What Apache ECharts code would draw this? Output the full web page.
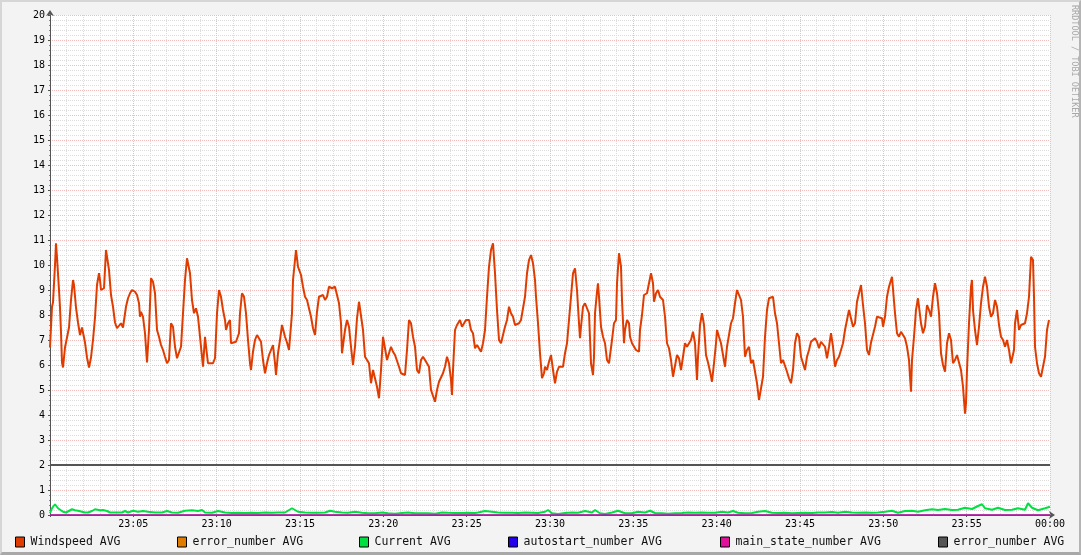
<!DOCTYPE html>
<html>
<head>
<meta charset="utf-8">
<script src="https://cdn.jsdelivr.net/npm/echarts@6/dist/echarts.min.js"></script>
<style>
  html, body { margin: 0; padding: 0; background: #f3f3f3; }
  #wrap { position: relative; width: 1081px; height: 555px; }
  #chart { position: absolute; left: 0; top: 0; width: 1081px; height: 555px; }
  #frame { position: absolute; left: 0; top: 0; width: 1081px; height: 555px; box-sizing: border-box;
           border-top: 2px solid #d6d6d6; border-left: 2px solid #d6d6d6;
           border-right: 2px solid #b4b4b4; border-bottom: 3px solid #a8a8a8; pointer-events: none; }
</style>
</head>
<body>
<div id="wrap"><div id="chart"></div><div id="frame"></div></div>
<script>
// ---- DATA (time = minutes after 23:00) ----
const seriesNames = ['Windspeed AVG', 'error_number AVG', 'Current AVG', 'autostart_number AVG', 'main_state_number AVG', 'error_number AVG '];

const windspeedAvg = [[0,6.7],[0.12,8.33],[0.18,8.5],[0.30,10.0],[0.36,10.87],[0.42,10.3],[0.54,9.0],[0.60,8.3],[0.66,7.3],[0.72,6.1],[0.78,5.9],[0.84,5.95],[0.90,6.7],[1.02,7.1],[1.14,7.5],[1.26,8.6],[1.38,9.4],[1.44,9.2],[1.56,8.3],[1.68,7.7],[1.80,7.2],[1.92,7.5],[2.04,7.5],[2.10,6.9],[2.22,6.3],[2.34,5.9],[2.46,6.3],[2.58,7.0],[2.70,7.9],[2.82,9.2],[2.94,9.67],[3.00,9.4],[3.06,9.0],[3.24,9.07],[3.36,10.6],[3.48,10.67],[3.54,9.8],[3.66,8.8],[3.78,8.33],[3.90,7.7],[4.02,7.47],[4.14,7.5],[4.26,7.67],[4.38,7.5],[4.50,7.5],[4.56,8.33],[4.68,8.67],[4.80,8.87],[4.92,9.0],[5.10,8.93],[5.22,8.8],[5.34,8.47],[5.40,7.93],[5.46,8.13],[5.58,7.93],[5.70,7.27],[5.82,6.1],[5.94,7.4],[6.06,9.47],[6.18,9.33],[6.30,8.87],[6.42,7.4],[6.54,7.13],[6.66,6.8],[6.78,6.6],[6.90,6.33],[7.02,6.07],[7.14,6.2],[7.26,7.67],[7.38,7.53],[7.50,6.73],[7.62,6.27],[7.74,6.27],[7.86,6.73],[7.98,8.07],[8.10,9.4],[8.22,10.27],[8.34,10.2],[8.40,9.67],[8.52,8.6],[8.64,8.07],[8.76,8.27],[8.88,7.93],[8.94,7.53],[9.06,6.73],[9.18,5.93],[9.30,7.13],[9.42,6.4],[9.48,6.07],[9.60,6.07],[9.78,6.07],[9.90,6.27],[10.02,8.07],[10.14,9.0],[10.26,8.73],[10.38,8.2],[10.50,7.8],[10.56,7.4],[10.68,7.67],[10.80,7.8],[10.86,6.87],[10.98,6.93],[11.16,6.93],[11.34,7.27],[11.40,8.07],[11.52,8.87],[11.64,8.73],[11.76,8.07],[11.88,7.0],[12.00,6.07],[12.06,5.8],[12.18,6.53],[12.30,7.0],[12.42,7.2],[12.54,7.13],[12.66,6.93],[12.78,6.2],[12.90,5.67],[13.02,6.07],[13.14,6.4],[13.26,6.47],[13.38,6.8],[13.50,6.07],[13.56,5.6],[13.68,6.47],[13.80,7.0],[13.92,7.6],[13.98,7.6],[14.10,7.13],[14.22,6.9],[14.34,6.6],[14.46,6.6],[14.52,8.07],[14.58,9.4],[14.76,10.6],[14.88,9.93],[15.06,9.6],[15.18,9.13],[15.30,8.73],[15.42,8.6],[15.54,8.67],[15.66,7.93],[15.78,7.47],[15.90,7.2],[16.02,8.13],[16.14,8.73],[16.26,8.8],[16.38,8.8],[16.50,8.6],[16.62,8.73],[16.74,9.13],[16.92,9.07],[17.10,9.13],[17.22,9.2],[17.34,8.47],[17.46,7.67],[17.52,6.47],[17.64,6.4],[17.70,7.4],[17.82,7.8],[17.94,7.53],[18.06,6.73],[18.18,6.0],[18.30,6.73],[18.42,7.87],[18.54,8.53],[18.66,8.47],[18.78,7.4],[18.90,6.33],[19.02,6.27],[19.14,6.07],[19.26,5.27],[19.38,5.8],[19.50,5.73],[19.62,5.13],[19.74,4.67],[19.86,5.8],[19.98,7.13],[20.10,7.07],[20.22,6.2],[20.34,6.47],[20.46,6.73],[20.58,6.53],[20.70,6.4],[20.82,6.33],[20.94,5.93],[21.06,5.67],[21.18,5.6],[21.30,5.6],[21.42,6.6],[21.54,7.8],[21.66,7.67],[21.78,7.13],[21.90,6.73],[22.02,5.8],[22.14,5.67],[22.26,6.2],[22.38,6.33],[22.50,6.2],[22.62,6.13],[22.74,5.93],[22.86,5.0],[22.98,5.0],[23.10,4.53],[23.22,5.0],[23.34,5.33],[23.46,5.33],[23.58,5.67],[23.70,5.93],[23.82,6.33],[23.94,6.07],[24.06,5.4],[24.12,4.8],[24.18,5.8],[24.30,7.4],[24.42,7.6],[24.60,7.8],[24.72,7.53],[24.84,7.53],[24.96,7.8],[25.14,7.8],[25.26,7.4],[25.38,7.27],[25.50,6.67],[25.62,6.8],[25.74,6.73],[25.86,6.53],[25.98,6.87],[26.10,7.4],[26.22,8.73],[26.34,9.93],[26.46,10.6],[26.58,10.87],[26.70,9.67],[26.82,8.2],[26.94,7.0],[27.06,6.87],[27.18,7.2],[27.30,7.53],[27.42,7.8],[27.54,8.33],[27.66,8.07],[27.78,7.93],[27.90,7.6],[28.02,7.6],[28.14,7.67],[28.26,7.8],[28.38,7.87],[28.50,8.73],[28.62,9.67],[28.74,10.2],[28.86,10.4],[28.98,10.07],[29.10,9.4],[29.16,8.73],[29.28,7.67],[29.40,6.47],[29.52,5.47],[29.64,5.67],[29.70,5.93],[29.82,5.8],[29.94,6.13],[30.06,6.4],[30.18,5.8],[30.30,5.27],[30.42,5.73],[30.54,5.93],[30.66,6.0],[30.78,5.93],[30.90,6.47],[31.02,6.87],[31.14,6.93],[31.26,8.73],[31.38,9.67],[31.50,9.87],[31.62,9.0],[31.74,7.67],[31.80,7.07],[31.86,7.53],[31.98,8.33],[32.10,8.47],[32.22,8.47],[32.34,8.07],[32.46,6.07],[32.58,5.6],[32.64,6.33],[32.70,8.07],[32.82,8.93],[32.88,9.27],[32.94,8.73],[33.06,7.53],[33.18,7.13],[33.30,6.87],[33.42,6.2],[33.54,6.07],[33.66,6.0],[33.72,7.0],[33.84,7.67],[33.96,7.8],[34.02,9.27],[34.14,10.47],[34.26,9.93],[34.32,8.6],[34.44,6.87],[34.50,7.4],[34.62,7.8],[34.74,7.67],[34.80,7.13],[34.92,6.87],[35.04,6.8],[35.16,6.6],[35.34,6.53],[35.40,7.4],[35.52,8.0],[35.64,8.8],[35.82,8.87],[35.94,9.27],[36.06,9.67],[36.18,9.27],[36.24,8.53],[36.36,8.87],[36.48,9.0],[36.60,8.73],[36.78,8.6],[36.90,7.93],[37.02,6.87],[37.14,6.67],[37.26,6.2],[37.38,5.53],[37.50,5.47],[37.62,6.4],[37.74,6.27],[37.86,5.8],[37.98,6.33],[38.10,6.87],[38.22,6.73],[38.34,6.67],[38.46,7.0],[38.58,7.33],[38.70,6.87],[38.82,5.4],[38.88,6.33],[39.00,7.6],[39.12,8.07],[39.24,7.6],[39.36,6.4],[39.48,6.1],[39.60,5.75],[39.72,5.33],[39.84,6.07],[39.96,6.87],[40.02,7.4],[40.14,7.13],[40.26,6.87],[40.38,6.8],[40.50,5.93],[40.62,6.73],[40.74,7.2],[40.86,7.67],[40.98,7.87],[41.10,8.47],[41.22,9.0],[41.34,8.93],[41.46,8.6],[41.58,7.93],[41.70,6.33],[41.82,6.6],[41.94,6.73],[42.06,6.07],[42.18,6.2],[42.30,6.2],[42.42,5.27],[42.54,4.6],[42.66,4.53],[42.78,5.53],[42.90,7.13],[43.02,8.2],[43.14,8.67],[43.26,8.73],[43.38,8.73],[43.50,8.07],[43.62,7.67],[43.74,6.87],[43.86,6.07],[43.98,6.2],[44.10,6.13],[44.22,5.73],[44.34,5.47],[44.46,5.27],[44.58,5.8],[44.70,6.87],[44.82,7.27],[44.94,7.13],[45.06,6.33],[45.18,6.07],[45.30,5.8],[45.42,6.33],[45.54,6.6],[45.66,6.93],[45.78,7.0],[45.90,7.07],[46.02,6.93],[46.14,6.67],[46.26,6.93],[46.38,7.0],[46.50,6.73],[46.62,6.27],[46.74,6.73],[46.86,7.27],[46.98,6.73],[47.10,5.93],[47.22,6.2],[47.34,6.33],[47.46,6.4],[47.58,6.87],[47.70,7.4],[47.82,7.8],[47.94,8.2],[48.06,8.2],[48.18,7.53],[48.30,7.67],[48.42,8.53],[48.54,8.87],[48.66,9.2],[48.78,8.4],[48.90,7.67],[49.02,6.6],[49.14,6.4],[49.26,6.9],[49.38,6.93],[49.50,7.53],[49.62,7.93],[49.74,7.87],[49.92,7.87],[49.98,7.53],[50.10,7.93],[50.22,8.73],[50.34,9.13],[50.46,9.4],[50.52,9.53],[50.64,9.47],[50.70,8.07],[50.82,7.27],[50.94,7.13],[51.06,7.33],[51.18,7.2],[51.30,7.07],[51.42,6.73],[51.54,6.2],[51.60,5.53],[51.66,4.93],[51.72,6.2],[51.84,7.13],[51.96,8.2],[52.08,8.67],[52.20,8.6],[52.26,7.67],[52.38,7.27],[52.50,7.53],[52.62,8.4],[52.74,8.2],[52.86,7.93],[52.98,8.73],[53.10,9.27],[53.22,8.87],[53.34,8.07],[53.46,6.47],[53.58,6.0],[53.70,5.73],[53.82,6.87],[53.94,7.27],[54.06,7.0],[54.18,6.07],[54.30,6.2],[54.42,6.4],[54.54,6.33],[54.66,5.8],[54.78,5.13],[54.90,4.05],[54.96,4.47],[55.02,5.8],[55.14,7.67],[55.26,9.13],[55.32,9.4],[55.38,8.2],[55.50,7.4],[55.62,6.8],[55.74,7.53],[55.86,8.47],[55.98,9.13],[56.10,9.53],[56.22,9.13],[56.34,8.33],[56.46,7.93],[56.58,8.07],[56.70,8.6],[56.82,8.33],[56.94,7.6],[57.06,7.13],[57.18,7.0],[57.30,6.73],[57.42,7.0],[57.54,6.6],[57.66,6.07],[57.78,6.13],[57.84,6.6],[57.90,7.67],[58.02,8.2],[58.14,7.4],[58.26,7.6],[58.38,7.53],[58.50,7.67],[58.62,8.07],[58.74,8.73],[58.80,9.53],[58.86,10.33],[58.98,10.2],[59.04,8.73],[59.10,6.73],[59.22,6.07],[59.34,5.67],[59.46,5.53],[59.58,5.53],[59.70,6.33],[59.82,7.4],[59.94,7.8]];

const currentAvg = [[0,0.07],[0.12,0.27],[0.30,0.43],[0.48,0.27],[0.60,0.2],[0.78,0.13],[0.96,0.1],[1.08,0.16],[1.32,0.23],[1.50,0.19],[1.68,0.17],[1.92,0.13],[2.10,0.1],[2.28,0.1],[2.52,0.16],[2.70,0.23],[3.00,0.19],[3.18,0.2],[3.42,0.16],[3.60,0.1],[3.90,0.1],[4.32,0.1],[4.50,0.16],[4.68,0.1],[4.98,0.17],[5.28,0.13],[5.58,0.16],[5.88,0.13],[6.30,0.1],[6.72,0.1],[7.02,0.16],[7.32,0.1],[7.68,0.09],[8.10,0.17],[8.52,0.19],[8.88,0.16],[9.12,0.2],[9.30,0.1],[9.72,0.09],[10.08,0.16],[10.50,0.1],[10.92,0.08],[11.28,0.09],[11.70,0.08],[12.12,0.09],[12.48,0.08],[12.90,0.1],[13.32,0.09],[13.68,0.1],[14.10,0.1],[14.52,0.27],[14.70,0.2],[14.88,0.13],[15.30,0.1],[15.72,0.09],[16.08,0.09],[16.50,0.1],[16.80,0.17],[17.10,0.13],[17.52,0.1],[17.88,0.09],[18.30,0.13],[18.72,0.09],[19.08,0.07],[19.50,0.07],[19.92,0.1],[20.28,0.07],[20.70,0.05],[21.12,0.08],[21.48,0.1],[21.90,0.07],[22.32,0.07],[22.68,0.07],[23.10,0.05],[23.52,0.1],[23.88,0.09],[24.30,0.08],[24.72,0.08],[25.08,0.09],[25.50,0.08],[25.68,0.1],[26.10,0.16],[26.52,0.13],[26.88,0.1],[27.30,0.09],[27.72,0.09],[28.08,0.08],[28.50,0.1],[28.92,0.09],[29.28,0.08],[29.70,0.13],[29.88,0.2],[30.12,0.07],[30.48,0.04],[30.90,0.08],[31.32,0.1],[31.68,0.09],[32.10,0.16],[32.52,0.1],[32.70,0.2],[33.00,0.07],[33.30,0.04],[33.72,0.1],[34.08,0.17],[34.50,0.07],[34.92,0.07],[35.28,0.13],[35.70,0.1],[36.00,0.17],[36.30,0.08],[36.72,0.07],[37.08,0.05],[37.50,0.07],[37.92,0.08],[38.28,0.1],[38.70,0.09],[39.12,0.1],[39.48,0.09],[39.90,0.09],[40.32,0.13],[40.68,0.1],[40.98,0.16],[41.28,0.09],[41.70,0.07],[42.12,0.08],[42.48,0.13],[42.90,0.16],[43.32,0.09],[43.68,0.08],[44.10,0.09],[44.52,0.07],[44.88,0.08],[45.30,0.09],[45.72,0.08],[46.08,0.1],[46.50,0.1],[46.92,0.12],[47.28,0.09],[47.70,0.13],[48.12,0.1],[48.48,0.09],[48.90,0.1],[49.32,0.09],[49.68,0.1],[50.10,0.13],[50.52,0.17],[50.88,0.09],[51.30,0.16],[51.72,0.17],[52.08,0.13],[52.50,0.19],[52.92,0.23],[53.28,0.2],[53.70,0.24],[54.12,0.2],[54.48,0.21],[54.90,0.29],[55.32,0.24],[55.68,0.36],[55.92,0.43],[56.10,0.27],[56.52,0.21],[56.88,0.29],[57.30,0.2],[57.72,0.21],[58.08,0.27],[58.50,0.21],[58.68,0.47],[58.92,0.29],[59.28,0.19],[59.70,0.27],[60.00,0.33]];

const flatTimes = [0, 60];
const errorNumberValues = [0, 0];
const autostartNumberValues = [0, 0];
const mainStateNumberValues = [0, 0];
const errorNumber2Values = [2, 2];

const seriesColors = ['#e03c00', '#e07b00', '#00e040', '#2200ee', '#e0109a', '#555555'];
const legendLefts = [15, 177, 359, 508, 720, 938];

// ---- CHART ----
const pair = (vals) => flatTimes.map((t, i) => [t, vals[i]]);
const seriesData = [windspeedAvg, pair(errorNumberValues), currentAvg, pair(autostartNumberValues), pair(mainStateNumberValues), pair(errorNumber2Values)];
const zs = [5, 3, 4, 4, 4, 6];

const MONO = 'DejaVu Sans Mono';
const chart = echarts.init(document.getElementById('chart'), null, { renderer: 'canvas' });
const pad2 = n => (n < 10 ? '0' : '') + n;

chart.setOption({
  animation: false,
  backgroundColor: '#f3f3f3',
  textStyle: { fontFamily: MONO },
  grid: { left: 50, top: 15, width: 1000, height: 500, show: true, backgroundColor: '#ffffff', borderWidth: 0 },
  legend: seriesNames.map((n, i) => ({
    data: [n], left: legendLefts[i], top: 536, padding: 0, icon: 'rect',
    itemWidth: 9, itemHeight: 10, itemGap: 0,
    itemStyle: { borderColor: '#000', borderWidth: 1 },
    textStyle: { fontFamily: MONO, fontSize: 11.5, color: '#111', padding: [0, 0, 0, 1] },
    selectedMode: false
  })),
  xAxis: {
    type: 'value', min: 0, max: 60, interval: 5,
    axisLine: { show: true, onZero: false, lineStyle: { color: '#555', width: 1 }, symbol: ['none', 'arrow'], symbolSize: [6, 6], symbolOffset: [0, 5] },
    axisTick: { show: true, length: 2, lineStyle: { color: '#555' } },
    minorTick: { show: true, splitNumber: 5, length: 1, lineStyle: { color: '#888' } },
    axisLabel: { fontFamily: MONO, fontSize: 10, color: '#000', margin: 4,
      formatter: v => v === 0 ? '' : (v === 60 ? '00:00' : '23:' + pad2(v)) },
    splitLine: { show: true, lineStyle: { color: '#f2bcbc', width: 1, type: [1, 1] } },
    minorSplitLine: { show: true, lineStyle: { color: '#dcdcdc', width: 1, type: [1, 1] } }
  },
  yAxis: {
    type: 'value', min: 0, max: 20, interval: 1,
    axisLine: { show: true, lineStyle: { color: '#555', width: 1 }, symbol: ['none', 'arrow'], symbolSize: [6, 6], symbolOffset: [0, 5] },
    axisTick: { show: true, length: 2, lineStyle: { color: '#555' } },
    minorTick: { show: true, splitNumber: 5, length: 1, lineStyle: { color: '#888' } },
    axisLabel: { fontFamily: MONO, fontSize: 10, color: '#000', margin: 5 },
    splitLine: { show: true, lineStyle: { color: '#f2bcbc', width: 1, type: [1, 1] } },
    minorSplitLine: { show: true, lineStyle: { color: '#dcdcdc', width: 1, type: [1, 1] } }
  },
  graphic: [{
    type: 'text', x: 1074, y: 5, rotation: -Math.PI / 2,
    style: { text: 'RRDTOOL / TOBI OETIKER', font: '8.5px "DejaVu Sans Mono"', fill: '#a8a8a8', textAlign: 'left', textVerticalAlign: 'middle' }
  }],
  series: seriesNames.map((n, i) => ({
    name: n, type: 'line', data: seriesData[i], showSymbol: false, symbol: 'none', z: zs[i],
    color: seriesColors[i], lineStyle: { color: seriesColors[i], width: (i === 1 || i === 3 || i === 4) ? 1 : 2 },
    clip: false, silent: true
  }))
});
</script>
</body>
</html>
